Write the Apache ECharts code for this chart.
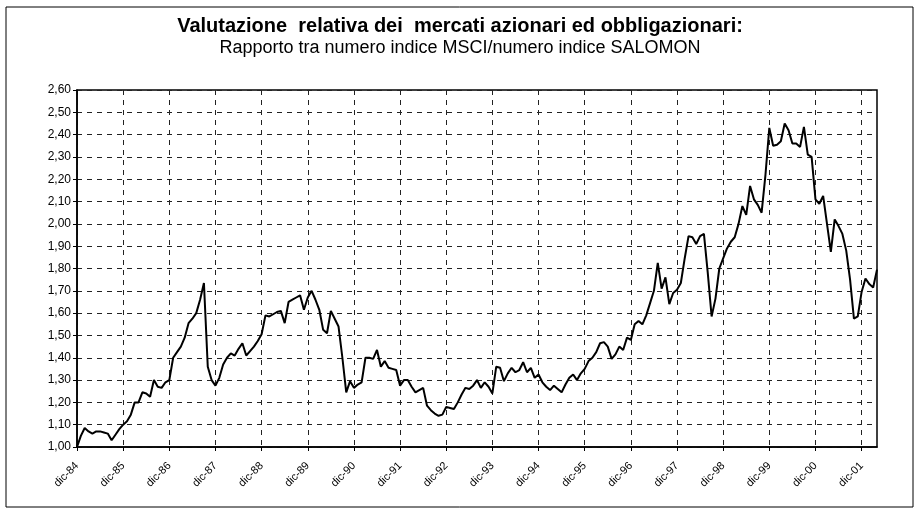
<!DOCTYPE html>
<html>
<head>
<meta charset="utf-8">
<title>Valutazione relativa dei mercati azionari ed obbligazionari</title>
<script src="https://cdn.jsdelivr.net/npm/echarts@6/dist/echarts.min.js"></script>
<style>
  html, body { margin: 0; padding: 0; background: #fff; }
  #chart { width: 920px; height: 512px; }
</style>
</head>
<body>
<div id="chart"></div>
<script>
// mesi e anni dell'asse (dati mensili da dic-84 ad apr-02)
const mesi = ['gen', 'feb', 'mar', 'apr', 'mag', 'giu', 'lug', 'ago', 'set', 'ott', 'nov', 'dic']
const anni = ['85', '86', '87', '88', '89', '90', '91', '92', '93', '94', '95', '96', '97', '98', '99', '00', '01', '02']

// etichette mostrate sull'asse x
const tickLabels = ['dic-84', 'dic-85', 'dic-86', 'dic-87', 'dic-88', 'dic-89', 'dic-90', 'dic-91', 'dic-92',
  'dic-93', 'dic-94', 'dic-95', 'dic-96', 'dic-97', 'dic-98', 'dic-99', 'dic-00', 'dic-01']

// rapporto MSCI / SALOMON (dic-84, poi gen..dic di ogni anno)
const rapporto84 = [1.00]
const rapporto85 = [1.05, 1.085, 1.07, 1.06, 1.07, 1.07, 1.065, 1.06, 1.03, 1.055, 1.08, 1.10]
const rapporto86 = [1.115, 1.145, 1.20, 1.20, 1.245, 1.24, 1.225, 1.30, 1.27, 1.265, 1.29, 1.30]
const rapporto87 = [1.40, 1.425, 1.45, 1.49, 1.555, 1.575, 1.60, 1.66, 1.735, 1.36, 1.30, 1.275]
const rapporto88 = [1.31, 1.37, 1.40, 1.42, 1.41, 1.44, 1.465, 1.41, 1.43, 1.45, 1.475, 1.505]
const rapporto89 = [1.59, 1.585, 1.595, 1.605, 1.61, 1.555, 1.65, 1.66, 1.67, 1.68, 1.615, 1.67]
const rapporto90 = [1.70, 1.66, 1.615, 1.525, 1.51, 1.61, 1.575, 1.54, 1.40, 1.245, 1.295, 1.265]
const rapporto91 = [1.28, 1.29, 1.40, 1.40, 1.395, 1.435, 1.36, 1.385, 1.355, 1.35, 1.345, 1.275]
const rapporto92 = [1.30, 1.30, 1.27, 1.245, 1.255, 1.265, 1.185, 1.165, 1.15, 1.14, 1.145, 1.18]
const rapporto93 = [1.175, 1.17, 1.20, 1.235, 1.265, 1.26, 1.275, 1.30, 1.265, 1.29, 1.27, 1.24]
const rapporto94 = [1.36, 1.355, 1.295, 1.33, 1.355, 1.335, 1.345, 1.38, 1.335, 1.355, 1.31, 1.325]
const rapporto95 = [1.29, 1.27, 1.255, 1.275, 1.26, 1.245, 1.28, 1.31, 1.325, 1.30, 1.33, 1.35]
const rapporto96 = [1.385, 1.40, 1.425, 1.465, 1.47, 1.45, 1.395, 1.415, 1.45, 1.435, 1.49, 1.48]
const rapporto97 = [1.55, 1.565, 1.55, 1.59, 1.645, 1.70, 1.825, 1.71, 1.76, 1.64, 1.69, 1.705]
const rapporto98 = [1.735, 1.845, 1.945, 1.94, 1.91, 1.945, 1.955, 1.78, 1.585, 1.665, 1.80, 1.845]
const rapporto99 = [1.89, 1.92, 1.94, 2.00, 2.08, 2.04, 2.17, 2.11, 2.085, 2.05, 2.22, 2.43]
const rapporto00 = [2.35, 2.355, 2.37, 2.45, 2.42, 2.36, 2.36, 2.345, 2.435, 2.31, 2.30, 2.11]
const rapporto01 = [2.09, 2.125, 2.00, 1.875, 2.02, 1.99, 1.955, 1.88, 1.75, 1.575, 1.585, 1.695]
const rapporto02 = [1.755, 1.73, 1.715, 1.795]

const valori = [].concat(
  rapporto84, rapporto85, rapporto86, rapporto87, rapporto88, rapporto89, rapporto90,
  rapporto91, rapporto92, rapporto93, rapporto94, rapporto95, rapporto96, rapporto97,
  rapporto98, rapporto99, rapporto00, rapporto01, rapporto02
)

// categorie mensili: dic-84, gen-85, ... fino all'ultimo valore
const categorie = ['dic-84']
for (const a of anni) {
  for (const m of mesi) {
    if (categorie.length < valori.length) categorie.push(m + '-' + a)
  }
}

const chart = echarts.init(document.getElementById('chart'), null, { renderer: 'canvas' })

const gridDash = { color: '#222', width: 1, type: [5, 5] }

chart.setOption({
  animation: false,
  backgroundColor: '#fff',
  textStyle: { fontFamily: 'Liberation Sans, Arial, sans-serif', color: '#000' },
  title: {
    text: 'Valutazione  relativa dei  mercati azionari ed obbligazionari:',
    subtext: 'Rapporto tra numero indice MSCI/numero indice SALOMON',
    left: 'center',
    top: 11,
    itemGap: 3,
    textStyle: { fontSize: 20, fontWeight: 'bold', color: '#000' },
    subtextStyle: { fontSize: 18, color: '#000' }
  },
  graphic: [{
    type: 'rect',
    shape: { x: 6, y: 7, width: 907, height: 500 },
    style: { fill: 'none', stroke: '#000', lineWidth: 1 },
    silent: true
  }],
  grid: {
    left: 77, right: 43, top: 90, bottom: 65,
    show: true, borderColor: '#000', borderWidth: 1.5
  },
  xAxis: {
    type: 'category',
    data: categorie,
    boundaryGap: false,
    axisLine: { lineStyle: { color: '#000', width: 1.5 } },
    axisTick: { interval: 11, length: 4, lineStyle: { color: '#000' } },
    axisLabel: {
      interval: 11,
      rotate: 45,
      fontSize: 11,
      color: '#000',
      margin: 17,
      formatter: (v) => tickLabels.includes(v) ? v : ''
    },
    splitLine: { show: true, interval: 11, lineStyle: gridDash }
  },
  yAxis: {
    type: 'value',
    min: 1,
    max: 2.6,
    interval: 0.1,
    axisLine: { show: true, lineStyle: { color: '#000', width: 1.5 } },
    axisTick: { show: true, length: 4, lineStyle: { color: '#000' } },
    axisLabel: {
      fontSize: 12,
      color: '#000',
      margin: 6,
      formatter: (v) => v.toFixed(2).replace('.', ',')
    },
    splitLine: { show: true, lineStyle: gridDash }
  },
  series: [{
    type: 'line',
    data: valori,
    showSymbol: false,
    lineStyle: { color: '#000', width: 2 }
  }]
})
</script>
</body>
</html>
